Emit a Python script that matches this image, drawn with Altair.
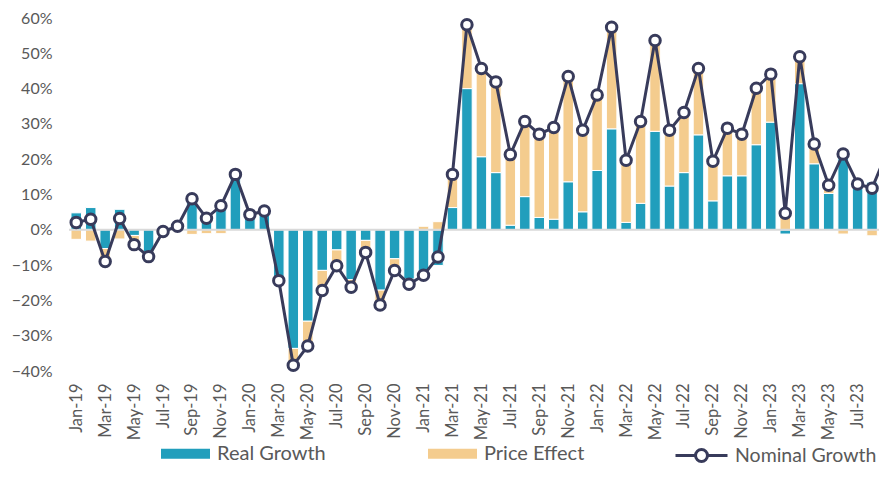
import altair as alt
import pandas as pd

months = [
    "Jan-19", "Feb-19", "Mar-19", "Apr-19", "May-19", "Jun-19", "Jul-19", "Aug-19", "Sep-19", "Oct-19", "Nov-19", "Dec-19",
    "Jan-20", "Feb-20", "Mar-20", "Apr-20", "May-20", "Jun-20", "Jul-20", "Aug-20", "Sep-20", "Oct-20", "Nov-20", "Dec-20",
    "Jan-21", "Feb-21", "Mar-21", "Apr-21", "May-21", "Jun-21", "Jul-21", "Aug-21", "Sep-21", "Oct-21", "Nov-21", "Dec-21",
    "Jan-22", "Feb-22", "Mar-22", "Apr-22", "May-22", "Jun-22", "Jul-22", "Aug-22", "Sep-22", "Oct-22", "Nov-22", "Dec-22",
    "Jan-23", "Feb-23", "Mar-23", "Apr-23", "May-23", "Jun-23", "Jul-23", "Aug-23", "Sep-23",
]

real_growth = [
    4.8, 6.3, -5.3, 5.8, -1.6, -6.3, -0.3, 1.3, 10.0, 4.5, 7.9, 16.0,
    4.4, 5.3, -14.0, -33.6, -25.9, -11.5, -5.7, -14.1, -3.0, -17.1, -8.2, -14.0,
    -13.8, -10.1, 6.3, 40.0, 20.7, 16.2, 1.3, 9.4, 3.5, 3.0, 13.6, 5.1,
    16.8, 28.6, 2.1, 7.5, 27.9, 12.4, 16.2, 26.9, 8.2, 15.3, 15.3, 24.1,
    30.5, -1.2, 41.4, 18.7, 10.3, 22.7, 13.2, 13.5, 19.5,
]

price_effect = [
    -2.7, -3.2, -3.6, -2.6, -2.6, -1.2, -0.2, -0.3, -1.3, -1.1, -1.1, -0.2,
    -0.1, 0.0, -0.5, -4.8, -7.0, -5.7, -4.5, -2.2, -3.4, -4.2, -3.3, -1.4,
    1.0, 2.3, 9.4, 18.1, 25.0, 25.7, 20.0, 21.3, 23.6, 26.0, 29.8, 23.1,
    21.4, 28.8, 17.6, 23.2, 25.7, 15.8, 17.0, 18.8, 11.2, 13.5, 11.8, 16.0,
    13.6, 5.9, 7.6, 5.6, 2.3, -1.2, -0.2, -1.7, 2.2,
]

nominal_growth = [
    2.1, 3.0, -9.0, 3.2, -4.2, -7.6, -0.5, 1.0, 8.8, 3.3, 6.8, 15.7,
    4.3, 5.3, -14.4, -38.4, -32.9, -17.2, -10.2, -16.3, -6.4, -21.3, -11.5, -15.4,
    -12.9, -7.7, 15.7, 58.1, 45.7, 41.9, 21.3, 30.7, 27.1, 29.0, 43.4, 28.2,
    38.2, 57.4, 19.7, 30.7, 53.6, 28.2, 33.2, 45.7, 19.4, 28.8, 27.1, 40.1,
    44.1, 4.7, 49.0, 24.3, 12.6, 21.5, 13.0, 11.8, 21.7,
]

BLUE = "#219EBC"
ORANGE = "#F4CC8E"
NAVY = "#383B5B"
GRAY = "#595959"
FONT = "Lato"

bar_rows = []
for i, m in enumerate(months):
    bar_rows.append({"idx": i, "month": m, "series": "Real Growth", "ord": 0, "value": real_growth[i] / 100})
    bar_rows.append({"idx": i, "month": m, "series": "Price Effect", "ord": 1, "value": price_effect[i] / 100})
bars_df = pd.DataFrame(bar_rows)

line_df = pd.DataFrame({
    "idx": list(range(len(months))),
    "month": months,
    "value": [v / 100 for v in nominal_growth],
    "label": ["Nominal Growth"] * len(months),
})

label_expr = "[" + ",".join("'" + m + "'" for m in months) + "][datum.value]"

W = 810
H = 353
STEP = 14.47
x_scale = alt.Scale(domain=[-0.5, -0.5 + W / STEP], nice=False, zero=False, padding=0)
y_scale = alt.Scale(domain=[-0.4, 0.6], nice=False, zero=False)

x_axis = alt.Axis(
    values=list(range(0, len(months), 2)),
    labelExpr=label_expr,
    labelAngle=-90,
    labelPadding=12,
    labelFlush=False,
    labelOverlap=False,
    labelBound=False,
    ticks=False,
    tickSize=0,
    domain=False,
    grid=False,
    title=None,
    labelFont=FONT,
    labelFontSize=16.5,
    labelColor=GRAY,
)
y_axis = alt.Axis(
    values=[-0.4, -0.3, -0.2, -0.1, 0, 0.1, 0.2, 0.3, 0.4, 0.5, 0.6],
    format=".0%",
    labelPadding=17,
    labelOverlap=False,
    labelFlush=False,
    ticks=False,
    tickSize=0,
    domain=False,
    grid=False,
    title=None,
    labelFont=FONT,
    labelFontSize=16,
    labelColor=GRAY,
)

bars = alt.Chart(bars_df).mark_bar(size=10.5, stroke="white", strokeWidth=1).encode(
    x=alt.X("idx:Q", scale=x_scale, axis=x_axis),
    y=alt.Y("value:Q", stack="zero", scale=y_scale, axis=y_axis),
    color=alt.Color(
        "series:N",
        scale=alt.Scale(domain=["Real Growth", "Price Effect"], range=[BLUE, ORANGE]),
        legend=alt.Legend(
            title=None,
            orient="none",
            direction="horizontal",
            legendX=92,
            legendY=411,
            symbolType="M-1,-0.2H1V0.2H-1Z",
            symbolSize=2401,
            symbolStrokeWidth=0,
            labelFont=FONT,
            labelFontSize=20,
            labelColor=GRAY,
            labelOffset=7,
            columnPadding=102,
            labelLimit=300,
        ),
    ),
    order=alt.Order("ord:Q", sort="ascending"),
)

zero_rule = alt.Chart(pd.DataFrame({"z": [0.0]})).mark_rule(color="#D9D9D9", strokeWidth=2).encode(
    y=alt.Y("z:Q", scale=y_scale, axis=y_axis)
)

line_legend = alt.Legend(
    title=None,
    orient="none",
    direction="horizontal",
    legendX=605,
    legendY=410,
    symbolType="M-1,0H-0.23M0.23,0H1M-0.23,0A0.23,0.23 0 1,0 0.23,0A0.23,0.23 0 1,0 -0.23,0Z",
    symbolSize=2704,
    symbolStrokeWidth=3,
    symbolFillColor="white",
    labelFont=FONT,
    labelFontSize=19.5,
    labelColor=GRAY,
    labelOffset=6,
    labelLimit=300,
)

stroke_enc = alt.Stroke(
    "label:N",
    scale=alt.Scale(domain=["Nominal Growth"], range=[NAVY]),
    legend=line_legend,
)

line = alt.Chart(line_df).mark_line(strokeWidth=3).encode(
    x=alt.X("idx:Q", scale=x_scale, axis=x_axis),
    y=alt.Y("value:Q", scale=y_scale, axis=y_axis),
    stroke=stroke_enc,
)

points = alt.Chart(line_df).mark_point(filled=False, fill="white", fillOpacity=1, opacity=1, size=110, strokeWidth=3).encode(
    x=alt.X("idx:Q", scale=x_scale, axis=x_axis),
    y=alt.Y("value:Q", scale=y_scale, axis=y_axis),
    stroke=stroke_enc,
)

chart = alt.layer(bars, zero_rule, line, points).properties(
    width=W,
    height=H,
    autosize=alt.AutoSizeParams(type="none"),
    padding={"left": 61, "top": 10, "right": 0, "bottom": 116},
).configure(
    font=FONT,
    view=alt.ViewConfig(stroke=None),
    axis=alt.AxisConfig(labelOverlap=False),
)

chart.save("out.html", embed_options={"renderer": "svg", "actions": False})
